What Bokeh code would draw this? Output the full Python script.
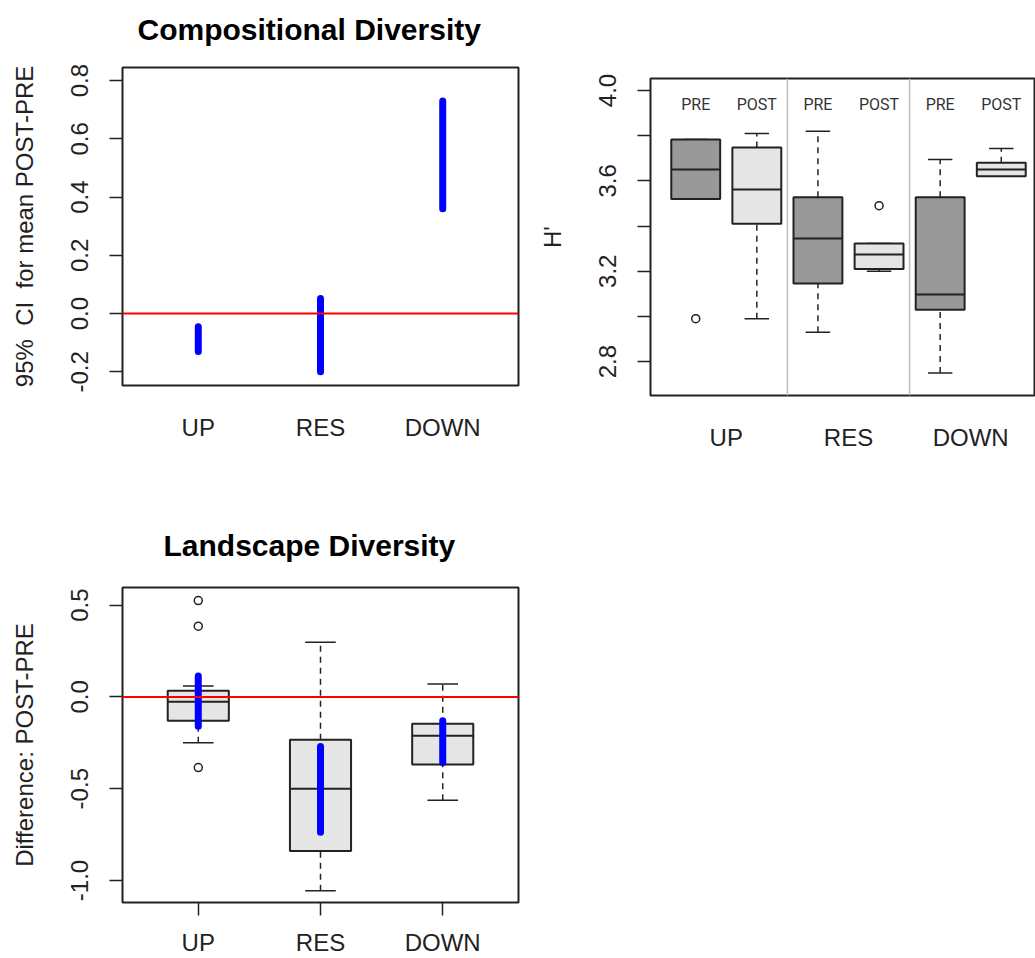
from bokeh.plotting import figure
from bokeh.models import Range1d, FixedTicker, PrintfTickFormatter, Span, Spacer, Title
from bokeh.layouts import column, row
from bokeh.embed import file_html
from bokeh.resources import INLINE
from bokeh.core.properties import value

# ---------------- data ----------------
groups = ["UP", "RES", "DOWN"]

# Compositional diversity: 95% CI for mean POST-PRE
comp_ci_low = [-0.13, -0.20, 0.36]
comp_ci_high = [-0.045, 0.052, 0.73]
comp_ticks = [-0.2, 0.0, 0.2, 0.4, 0.6, 0.8]

# H' boxplots (PRE / POST per group)
h_periods = ["PRE", "POST", "PRE", "POST", "PRE", "POST"]
h_lo = [3.52, 2.99, 2.93, 3.20, 2.75, 3.62]
h_q1 = [3.52, 3.41, 3.146, 3.21, 3.03, 3.62]
h_med = [3.65, 3.562, 3.345, 3.274, 3.097, 3.65]
h_q3 = [3.783, 3.748, 3.527, 3.323, 3.527, 3.68]
h_hi = [3.783, 3.81, 3.82, 3.323, 3.695, 3.743]
h_out_box = [1, 4]
h_out_val = [2.99, 3.49]
h_ticks = [2.8, 3.0, 3.2, 3.4, 3.6, 3.8, 4.0]
h_labeled = [2.8, 3.2, 3.6, 4.0]

# Landscape diversity: difference POST-PRE boxplots + CI
l_lo = [-0.25, -1.056, -0.563]
l_q1 = [-0.13, -0.84, -0.368]
l_med = [-0.027, -0.50, -0.211]
l_q3 = [0.033, -0.233, -0.146]
l_hi = [0.06, 0.298, 0.07]
l_out_box = [1, 1, 1]
l_out_val = [0.525, 0.385, -0.385]
l_ci_low = [-0.16, -0.737, -0.357]
l_ci_high = [0.114, -0.27, -0.13]
l_ticks = [-1.0, -0.5, 0.0, 0.5]

# ---------------- styles ----------------
FONT = "Liberation Sans"
INK = "#222222"
TXT = "#222222"
BLUE = "#0000ff"
RED = "#ff0000"
DASH = "6 5"


def base_fig(width, height, xr, yr, left, right, top, bottom):
    p = figure(width=width, height=height, x_range=xr, y_range=yr,
               output_backend="svg", toolbar_location=None,
               min_border_left=left, min_border_right=right,
               min_border_top=top, min_border_bottom=bottom)
    p.grid.visible = False
    p.outline_line_color = INK
    p.outline_line_width = 2
    p.background_fill_color = "white"
    p.border_fill_color = "white"
    for ax in p.axis:
        ax.axis_line_color = None
        ax.major_label_text_font = FONT
        ax.major_label_text_font_size = "24px"
        ax.major_label_text_color = TXT
        ax.axis_label_text_font = FONT
        ax.axis_label_text_font_size = "24px"
        ax.axis_label_text_font_style = "normal"
        ax.axis_label_text_color = TXT
        ax.minor_tick_line_color = None
        ax.major_tick_in = 0
        ax.major_tick_line_color = INK
        ax.major_tick_line_width = 1.5
    p.yaxis.major_tick_out = 13
    p.yaxis.major_label_orientation = "vertical"
    p.yaxis.major_label_standoff = 21
    p.yaxis.axis_label_standoff = 31
    return p


def make_title(text, offset, standoff, valign):
    return Title(text=text, align="left", offset=offset, standoff=standoff,
                 vertical_align=valign, text_font=FONT, text_font_size="30px",
                 text_font_style="bold", text_color="#000000")


# ---------------- panel 1 ----------------
p1 = base_fig(528, 470, Range1d(0.38, 3.62), Range1d(-0.247, 0.845),
              122, 10, 67, 85)
# thin empty panel between frame and title, then the title itself
p1.add_layout(Title(text=" ", text_font_size="1px", standoff=6), "above")
p1.add_layout(make_title("Compositional Diversity", 15, 22, "top"), "above")
x1 = [i + 1 for i in range(len(groups))]
p1.xaxis.ticker = FixedTicker(ticks=x1)
p1.xaxis.major_label_overrides = {x: g for x, g in zip(x1, groups)}
p1.xaxis.major_tick_line_color = None
p1.xaxis.major_tick_out = 0
p1.xaxis.major_label_standoff = 28
p1.yaxis.ticker = FixedTicker(ticks=comp_ticks)
p1.yaxis.formatter = PrintfTickFormatter(format="%.1f")
p1.yaxis.axis_label = "95%\u00a0 CI\u00a0 for mean POST-PRE"
p1.add_layout(Span(location=0, dimension="width", line_color=RED, line_width=2))
p1.segment(x0=x1, x1=x1, y0=comp_ci_low, y1=comp_ci_high,
           line_color=BLUE, line_width=7, line_cap="round")

# ---------------- panel 2 ----------------
x2 = [i + 1 for i in range(len(h_periods))]
p2 = base_fig(507, 460, Range1d(0.26, 6.56), Range1d(2.65, 4.053),
              122, 0, 68, 75)
p2.yaxis.ticker = FixedTicker(ticks=h_ticks)
p2.yaxis.formatter = PrintfTickFormatter(format="%.1f")
p2.yaxis.major_label_overrides = {t: "" for t in h_ticks if t not in h_labeled}
p2.yaxis.axis_label = "H'"
centers = [(x2[2 * i] + x2[2 * i + 1]) / 2 for i in range(len(groups))]
p2.xaxis.ticker = FixedTicker(ticks=centers)
p2.xaxis.major_label_overrides = {c: g for c, g in zip(centers, groups)}
p2.xaxis.major_tick_line_color = None
p2.xaxis.major_tick_out = 0
p2.xaxis.major_label_standoff = 28
for i in range(len(groups) - 1):
    p2.add_layout(Span(location=(x2[2 * i + 1] + x2[2 * i + 2]) / 2,
                       dimension="height", line_color="#bebebe", line_width=1.5))
fills = ["#999999" if per == "PRE" else "#e5e5e5" for per in h_periods]
bw2 = 0.8
p2.segment(x0=x2, x1=x2, y0=h_q3, y1=h_hi, line_color=INK, line_width=1.5, line_dash=DASH)
p2.segment(x0=x2, x1=x2, y0=h_lo, y1=h_q1, line_color=INK, line_width=1.5, line_dash=DASH)
p2.segment(x0=[x - bw2 / 4 for x in x2], x1=[x + bw2 / 4 for x in x2], y0=h_hi, y1=h_hi,
           line_color=INK, line_width=1.5)
p2.segment(x0=[x - bw2 / 4 for x in x2], x1=[x + bw2 / 4 for x in x2], y0=h_lo, y1=h_lo,
           line_color=INK, line_width=1.5)
p2.quad(left=[x - bw2 / 2 for x in x2], right=[x + bw2 / 2 for x in x2],
        bottom=h_q1, top=h_q3, fill_color=fills, line_color=INK, line_width=2)
p2.segment(x0=[x - bw2 / 2 for x in x2], x1=[x + bw2 / 2 for x in x2], y0=h_med, y1=h_med,
           line_color=INK, line_width=2)
p2.scatter(x=h_out_box, y=h_out_val, marker="circle", size=8, fill_color=None,
           line_color=INK, line_width=1.5)
label_y = 3.94
p2.text(x=x2, y=[label_y] * len(x2), text=h_periods, text_align="center",
        text_baseline="middle", text_font=value("Roboto"),
        text_font_size="16px", text_color="#333333")

# ---------------- panel 3 ----------------
x3 = [i + 1 for i in range(len(groups))]
p3 = base_fig(528, 488, Range1d(0.38, 3.62), Range1d(-1.12, 0.596),
              122, 10, 117, 54)
p3.add_layout(make_title("Landscape Diversity", 41, 52, "bottom"), "above")
p3.xaxis.ticker = FixedTicker(ticks=x3)
p3.xaxis.major_label_overrides = {x: g for x, g in zip(x3, groups)}
p3.xaxis.major_tick_out = 13
p3.xaxis.major_label_standoff = 13
p3.yaxis.ticker = FixedTicker(ticks=l_ticks)
p3.yaxis.formatter = PrintfTickFormatter(format="%.1f")
p3.yaxis.axis_label = "Difference: POST-PRE"
bw3 = 0.5
p3.segment(x0=x3, x1=x3, y0=l_q3, y1=l_hi, line_color=INK, line_width=1.5, line_dash=DASH)
p3.segment(x0=x3, x1=x3, y0=l_lo, y1=l_q1, line_color=INK, line_width=1.5, line_dash=DASH)
p3.segment(x0=[x - bw3 / 4 for x in x3], x1=[x + bw3 / 4 for x in x3], y0=l_hi, y1=l_hi,
           line_color=INK, line_width=1.5)
p3.segment(x0=[x - bw3 / 4 for x in x3], x1=[x + bw3 / 4 for x in x3], y0=l_lo, y1=l_lo,
           line_color=INK, line_width=1.5)
p3.quad(left=[x - bw3 / 2 for x in x3], right=[x + bw3 / 2 for x in x3],
        bottom=l_q1, top=l_q3, fill_color="#e5e5e5", line_color=INK, line_width=2)
p3.segment(x0=[x - bw3 / 2 for x in x3], x1=[x + bw3 / 2 for x in x3], y0=l_med, y1=l_med,
           line_color=INK, line_width=2)
p3.scatter(x=l_out_box, y=l_out_val, marker="circle", size=8, fill_color=None,
           line_color=INK, line_width=1.5)
p3.add_layout(Span(location=0, dimension="width", line_color=RED, line_width=2))
p3.segment(x0=x3, x1=x3, y0=l_ci_low, y1=l_ci_high,
           line_color=BLUE, line_width=7, line_cap="round")

layout = column(row(p1, column(Spacer(width=507, height=10), p2, spacing=0), spacing=0),
                p3, spacing=0)
open("out.html", "w").write(file_html(layout, INLINE))
